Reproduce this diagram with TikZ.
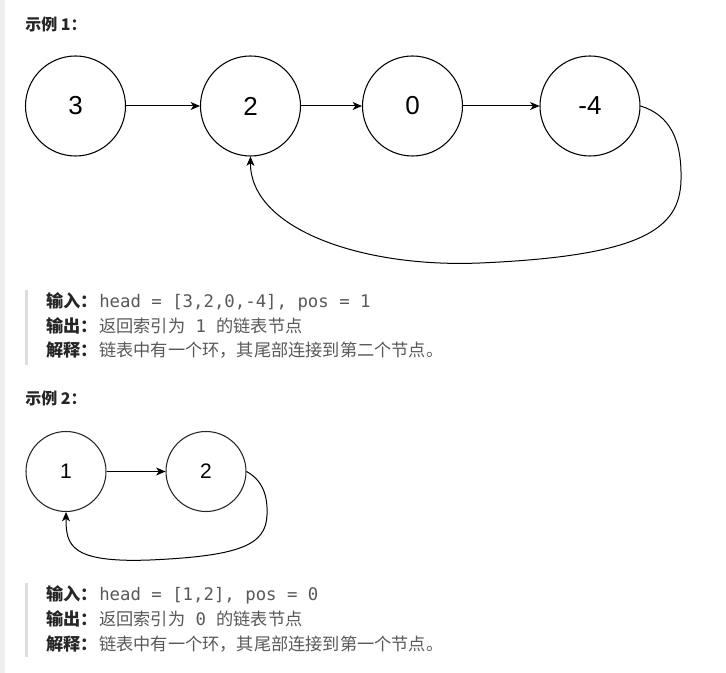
\documentclass[tikz,border=0pt]{standalone}
\usepackage{fontspec}
\setmainfont{Liberation Sans}
\newfontfamily\cjk{Noto Sans CJK SC}
\newfontfamily\codefont{DejaVu Sans Mono}
\usetikzlibrary{arrows.meta}
\definecolor{labelc}{HTML}{262626}
\definecolor{textc}{HTML}{595959}
\definecolor{barc}{HTML}{DDDDDD}
\definecolor{stripc}{HTML}{EFEFEF}
\newcommand\mycode[1]{{\codefont\fontsize{13}{15}\selectfont #1}}
\begin{document}
\begin{tikzpicture}[x=0.75pt,y=-0.75pt,
  listnode/.style={circle,draw=black,line width=0.8pt,minimum size=75pt,inner sep=0pt,
    font=\fontsize{19.5}{22}\selectfont},
  smallnode/.style={circle,draw=black!85,line width=0.8pt,minimum size=60pt,inner sep=0pt,
    font=\fontsize{15.75}{18}\selectfont},
  link/.style={-{Stealth[length=7pt,width=6pt,inset=2pt]},line width=0.75pt,black},
  heading/.style={anchor=base west,inner sep=0pt,text=labelc,
    font=\cjk\bfseries\fontsize{12}{14}\selectfont},
  lab/.style={anchor=base west,inner sep=0pt,text=labelc,
    font=\cjk\bfseries\fontsize{12.9}{15}\selectfont},
  txt/.style={anchor=base west,inner sep=0pt,text=textc,
    font=\cjk\fontsize{12.9}{15}\selectfont},
  bar/.style={fill=barc}
]
\useasboundingbox (0,0) rectangle (726,673);
\fill[white] (0,0) rectangle (726,673);
\fill[stripc] (0,0) rectangle (5,673);

% Example 1
\node[heading] (h1) at (25,31) {示例 1：};
\node[listnode] (a1) at (75.5,106) {3};
\node[listnode] (b1) at (250.5,106) {2};
\node[listnode] (c1) at (412.5,106) {0};
\node[listnode] (d1) at (590,106) {-4};
\draw[link] (a1) -- (b1);
\draw[link] (b1) -- (c1);
\draw[link] (c1) -- (d1);
\draw[link] (d1.east) .. controls (670,115) and (682,140) .. (681,180)
  .. controls (680,230) and (640,256) .. (480,263)
  .. controls (360,268) and (250,228) .. (b1.south);

\fill[bar] (25,290) rectangle (27.5,365);
\node[lab] (l11) at (46,308) {输入：};
\node[txt] (t11) at (99,308) {\mycode{head = [3,2,0,-4], pos = 1}};
\node[lab] (l12) at (46,333) {输出：};
\node[txt] (t12) at (99,333) {返回索引为\mycode{ 1 }的链表节点};
\node[lab] (l13) at (46,357) {解释：};
\node[txt] (t13) at (99,357) {链表中有一个环，其尾部连接到第二个节点。};

% Example 2
\node[heading] (h2) at (25,405) {示例 2：};
\node[smallnode] (a2) at (66,471.5) {1};
\node[smallnode] (b2) at (206,471.5) {2};
\draw[link] (a2) -- (b2);
\draw[link] (b2.east) .. controls (262,480) and (268,495) .. (267,515)
  .. controls (266,545) and (240,556) .. (150,560)
  .. controls (70,563) and (66,545) .. (a2.south);

\fill[bar] (25,583) rectangle (27.5,657);
\node[lab] (l21) at (46,601) {输入：};
\node[txt] (t21) at (99,601) {\mycode{head = [1,2], pos = 0}};
\node[lab] (l22) at (46,626) {输出：};
\node[txt] (t22) at (99,626) {返回索引为\mycode{ 0 }的链表节点};
\node[lab] (l23) at (46,651) {解释：};
\node[txt] (t23) at (99,651) {链表中有一个环，其尾部连接到第一个节点。};
\end{tikzpicture}
\end{document}
